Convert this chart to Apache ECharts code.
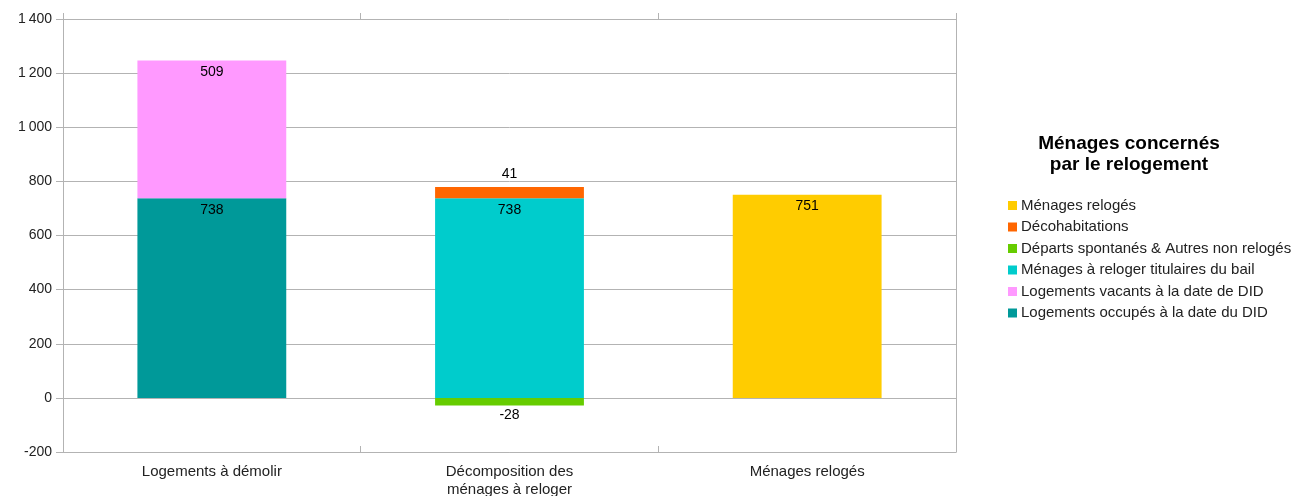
<!DOCTYPE html>
<html>
<head>
<meta charset="utf-8">
<script src="https://cdn.jsdelivr.net/npm/echarts@6/dist/echarts.min.js"></script>
<style>
  html, body { margin: 0; padding: 0; background: #fff; }
  #chart { width: 1301px; height: 496px; }
</style>
</head>
<body>
<div id="chart"></div>
<script>
var categories = ['Logements à démolir', 'Décomposition des\nménages à reloger', 'Ménages relogés'];

var logementsOccupes = [738, null, null];
var logementsVacants = [509, null, null];
var menagesTitulaires = [null, 738, null];
var departsSpontanes = [null, -28, null];
var decohabitations = [null, 41, null];
var menagesReloges = [null, null, 751];

var legendOrder = [
  'Ménages relogés',
  'Décohabitations',
  'Départs spontanés & Autres non relogés',
  'Ménages à reloger titulaires du bail',
  'Logements vacants à la date de DID',
  'Logements occupés à la date du DID'
];

// séparateur de milliers : espace fine
function formatMilliers(v) {
  var s = String(Math.abs(v));
  if (s.length > 3) s = s.slice(0, s.length - 3) + '\u2009' + s.slice(s.length - 3);
  return (v < 0 ? '-' : '') + s;
}

var chart = echarts.init(document.getElementById('chart'));

var labelStyle = { show: true, color: '#000', fontSize: 14, fontFamily: 'Liberation Sans' };

function barSerie(name, data, color, pos, dist) {
  return {
    name: name,
    type: 'bar',
    stack: 'total',
    barWidth: '50%',
    data: data,
    itemStyle: { color: color },
    label: Object.assign({}, labelStyle, { position: pos, distance: dist }),
    emphasis: { disabled: true }
  };
}

var option = {
  animation: false,
  textStyle: { fontFamily: 'Liberation Sans' },
  title: {
    text: 'Ménages concernés\npar le relogement',
    left: 1124,
    top: 128,
    textAlign: 'center',
    textStyle: { fontSize: 19, fontWeight: 'bold', color: '#000', lineHeight: 21, fontFamily: 'Liberation Sans' }
  },
  legend: {
    orient: 'vertical',
    left: 1003,
    top: 193,
    icon: 'rect',
    itemWidth: 9,
    itemHeight: 9,
    itemGap: 6.5,
    data: legendOrder,
    textStyle: { fontSize: 15, color: '#222', padding: [0, 0, 0, -1], fontFamily: 'Liberation Sans' },
    selectedMode: false
  },
  grid: { left: 63, right: 345, top: 19, bottom: 44, outerBoundsMode: 'none' },
  xAxis: [
    {
      type: 'category',
      data: categories,
      position: 'bottom',
      axisLine: { show: true, onZero: false, lineStyle: { color: '#b3b3b3' } },
      axisTick: { show: true, inside: true, length: 6, lineStyle: { color: '#b3b3b3' } },
      axisLabel: { color: '#222', fontSize: 15, margin: 11, lineHeight: 18, fontFamily: 'Liberation Sans' }
    },
    {
      type: 'category',
      data: categories,
      position: 'top',
      axisLine: { show: false, onZero: false },
      axisTick: { show: true, length: 6, lineStyle: { color: '#b3b3b3' } },
      axisLabel: { show: false }
    }
  ],
  yAxis: [
    {
      type: 'value',
      min: -200,
      max: 1400,
      interval: 200,
      axisLine: { show: true, lineStyle: { color: '#b3b3b3' } },
      axisTick: { show: true, length: 7, lineStyle: { color: '#b3b3b3' } },
      axisLabel: { color: '#222', fontSize: 14, margin: 11, formatter: formatMilliers, fontFamily: 'Liberation Sans' },
      splitLine: { show: true, lineStyle: { color: '#b3b3b3' } }
    },
    {
      type: 'value',
      position: 'right',
      min: -200,
      max: 1400,
      interval: 200,
      axisLine: { show: true, lineStyle: { color: '#b3b3b3' } },
      axisTick: { show: false },
      axisLabel: { show: false },
      splitLine: { show: false }
    }
  ],
  series: [
    barSerie('Logements occupés à la date du DID', logementsOccupes, '#009999', 'insideTop', 5),
    barSerie('Logements vacants à la date de DID', logementsVacants, '#ff99ff', 'insideTop', 5),
    barSerie('Ménages à reloger titulaires du bail', menagesTitulaires, '#00cccc', 'insideTop', 5),
    barSerie('Départs spontanés & Autres non relogés', departsSpontanes, '#66cc00', 'bottom', 3),
    barSerie('Décohabitations', decohabitations, '#ff6600', 'top', 6),
    barSerie('Ménages relogés', menagesReloges, '#ffcc00', 'insideTop', 5)
  ]
};

chart.setOption(option);
</script>
</body>
</html>
